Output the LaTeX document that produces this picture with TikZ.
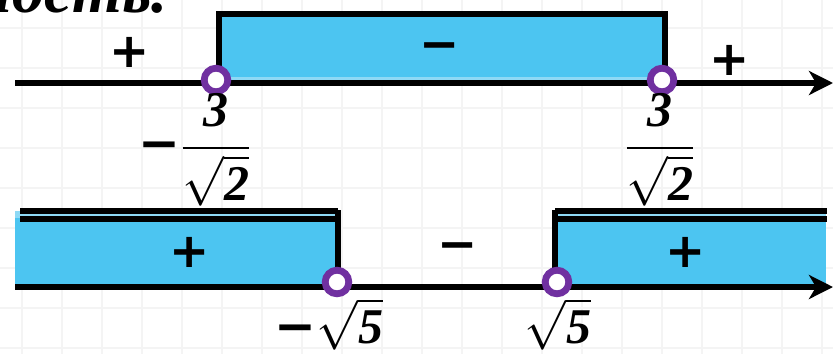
\documentclass[tikz,border=0pt]{standalone}
\usepackage{amsmath}
\usepackage{fontspec}
\setmainfont{Liberation Serif}
\newfontfamily\signfont{DejaVu Sans}
\newcommand{\thickminus}{\mbox{\signfont\bfseries −}}
\usetikzlibrary{arrows.meta}
\definecolor{zonefill}{HTML}{4CC5F1}
\definecolor{zonelite}{HTML}{8ED9F5}
\definecolor{holepurple}{HTML}{7030A0}

\begin{document}
\begin{tikzpicture}[x=0.5pt,y=-0.5pt,
		axis/.style={line width=2.6pt,-{Stealth[length=12pt,width=12pt,inset=3.5pt]}},
		edge/.style={line width=2.6pt},
		zone/.style={fill=zonefill},
		hole/.style={circle,draw=holepurple,fill=white,line width=3.4pt,minimum size=11.8pt,inner sep=0pt},
		sgn/.style={font=\fontsize{24}{28}\signfont\bfseries,inner sep=0pt},
		lbl/.style={font=\fontsize{25}{30}\selectfont\bfseries\itshape,inner sep=0pt}
	]
	\useasboundingbox (0,0) rectangle (833,354);
	
	% graph paper
	\foreach \gx in {22,62,...,822}
		\draw[gray!9,line width=1pt] (\gx,0) -- (\gx,354);
	\foreach \gy in {28,68,...,348}
		\draw[gray!9,line width=1pt] (0,\gy) -- (833,\gy);
	
	% cut heading
	\node[font=\fontsize{32}{36}\selectfont\bfseries\itshape,anchor=base east,inner sep=0pt] (head) at (168,12) {ность.};
	
	% top line: -3/sqrt2 and 3/sqrt2
	\coordinate (p1) at (216,80);
	\coordinate (p2) at (662,80);
	\fill[zone] (219,16) rectangle (663,81);
	\fill[zonelite] (219,77) rectangle (663,81);
	\coordinate (t0) at (15,83);
	\coordinate (t9) at (833,83);
	\draw[axis] (t0) -- (t9);
	\draw[edge] (p1) ++(3,0) |- (665,14) -- (665,80);
	\node[hole] (a1) at (p1) {};
	\node[hole] (a2) at (p2) {};
	
	\node[sgn] (s1) at (130,52) {+};
	\node[sgn] (s2) at (440,52) {−};
	\node[sgn] (s3) at (730,60) {+};
	
	\node[lbl] (l1) at (195,150) {$\thickminus\dfrac{\textit{3}}{\sqrt{\textit{2}}}$};
	\node[lbl] (l2) at (660,150) {$\dfrac{\textit{3}}{\sqrt{\textit{2}}}$};
	
	% bottom line: -sqrt5 and sqrt5
	\coordinate (q1) at (337,282);
	\coordinate (q2) at (557,282);
	\fill[zone] (15,212) rectangle (337,285);
	\fill[zone] (555,212) rectangle (826,285);
	\fill[zonelite] (15,211) rectangle (337,218);
	\fill[zonelite] (555,211) rectangle (826,218);
	\coordinate (b0) at (15,287);
	\coordinate (b9) at (833,287);
	\draw[axis] (b0) -- (b9);
	\draw[edge] (20,211) -- (338,211);
	\draw[edge] (20,219) -- (338,219);
	\draw[edge] (555,211) -- (827,211);
	\draw[edge] (555,219) -- (827,219);
	\draw[edge] (q1) ++(1,0) -- (338,210);
	\draw[edge] (q2) ++(-2,0) -- (555,210);
	\node[hole] (b1) at (q1) {};
	\node[hole] (b2) at (q2) {};
	
	\node[sgn] (s4) at (190,252) {+};
	\node[sgn] (s5) at (458,252) {−};
	\node[sgn] (s6) at (686,252) {+};
	
	\node[lbl] (l3) at (329,324) {$\thickminus\sqrt{\textit{5}}$};
	\node[lbl] (l4) at (558,324) {$\sqrt{\textit{5}}$};
\end{tikzpicture}
\end{document}
